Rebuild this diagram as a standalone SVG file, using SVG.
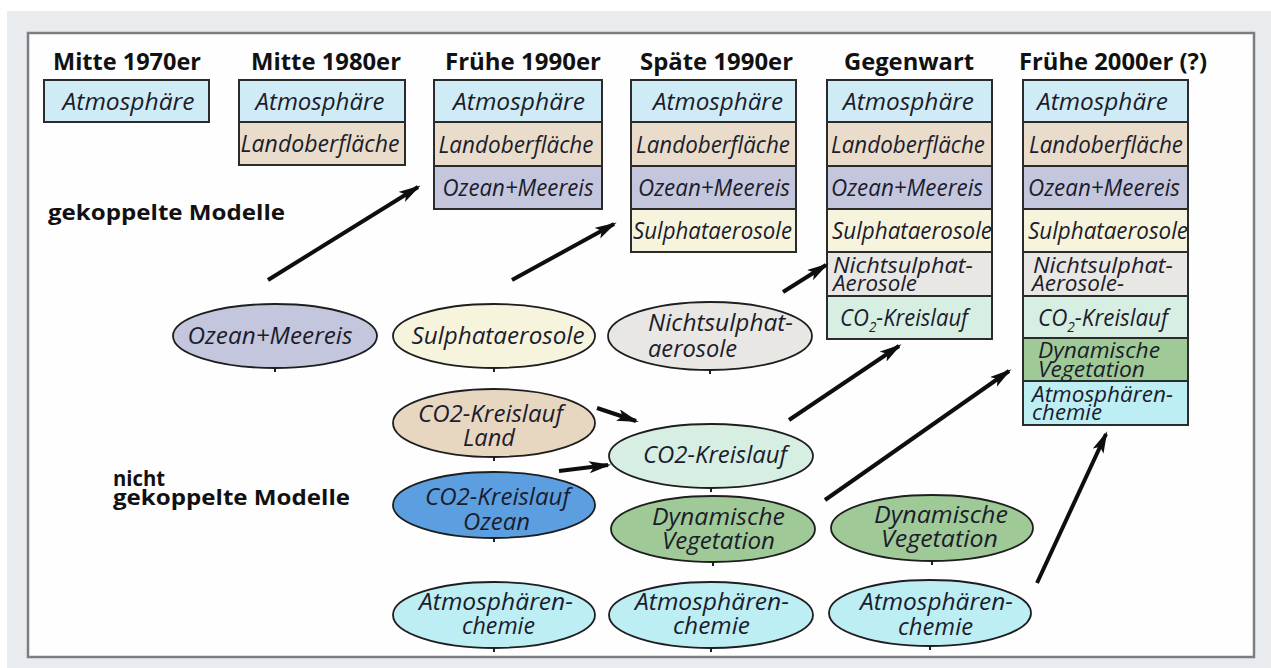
<svg xmlns="http://www.w3.org/2000/svg" width="1271" height="668" viewBox="0 0 1271 668">
  <style>
    .hdr { font-family: "Open Sans", "Liberation Sans", sans-serif; font-weight: 700; font-size: 24px; fill: #111; }
    .side { font-family: "Open Sans", "Liberation Sans", sans-serif; font-weight: 700; font-size: 22px; fill: #111; }
    .lbl { font-family: "Open Sans", "Liberation Sans", sans-serif; font-style: italic; font-size: 23px; fill: #1c1c2c; }
    .lbl2 { font-family: "Open Sans", "Liberation Sans", sans-serif; font-style: italic; font-size: 21px; fill: #1c1c2c; }
    .cell { stroke: #2b2b2b; stroke-width: 2; }
    .ell { stroke: #1e1e1e; stroke-width: 1.8; }
    .tick { stroke: #1e1e1e; stroke-width: 2; }
    .atm { fill: #cfecf6; }
    .land { fill: #e9dcca; }
    .ocean { fill: #c4c6dd; }
    .sulf { fill: #f6f4dd; }
    .nsulf { fill: #e9e7e3; }
    .co2 { fill: #d6efe2; }
    .veg { fill: #9fca97; }
    .chem { fill: #bceef4; }
    .co2land { fill: #e7d7c1; }
    .co2ocean { fill: #5c9fe0; }
    .arrow { stroke: #0e0e0e; stroke-width: 4; fill: none; marker-end: url(#ah); }
  </style>
  <defs>
    <marker id="ah" markerUnits="userSpaceOnUse" markerWidth="24" markerHeight="14" refX="19" refY="6" orient="auto">
      <path d="M0,0 L22,6 L0,12 L5,6 Z" fill="#0e0e0e"/>
    </marker>
  </defs>

  <!-- page background and framed panel -->
  <rect x="0" y="0" width="1271" height="668" fill="#ffffff"/>
  <rect x="7" y="11" width="1264" height="657" fill="#e8ecef"/>
  <rect x="28" y="33" width="1226" height="624" fill="#fefefe" stroke="#7b7e82" stroke-width="2.5"/>

  <!-- column headings -->
  <g id="headings">
    <text class="hdr" x="53" y="70" textLength="148" lengthAdjust="spacingAndGlyphs">Mitte 1970er</text>
    <text class="hdr" x="251" y="70" textLength="150" lengthAdjust="spacingAndGlyphs">Mitte 1980er</text>
    <text class="hdr" x="445" y="70" textLength="156" lengthAdjust="spacingAndGlyphs">Frühe 1990er</text>
    <text class="hdr" x="640" y="70" textLength="153" lengthAdjust="spacingAndGlyphs">Späte 1990er</text>
    <text class="hdr" x="844" y="70" textLength="130" lengthAdjust="spacingAndGlyphs">Gegenwart</text>
    <text class="hdr" x="1019" y="70" textLength="188" lengthAdjust="spacingAndGlyphs">Frühe 2000er (?)</text>
  </g>

  <!-- side labels -->
  <g id="side-labels">
    <text class="side" x="48" y="220" textLength="237" lengthAdjust="spacingAndGlyphs">gekoppelte Modelle</text>
    <text class="side" x="113" y="486" textLength="52" lengthAdjust="spacingAndGlyphs">nicht</text>
    <text class="side" x="113" y="505" textLength="237" lengthAdjust="spacingAndGlyphs">gekoppelte Modelle</text>
  </g>

  <!-- Mitte 1970er -->
  <g id="col-1970">
    <rect class="cell atm" x="44" y="80" width="165" height="42"/>
    <text class="lbl" x="128.5" y="110" text-anchor="middle" textLength="132" lengthAdjust="spacingAndGlyphs">Atmosphäre</text>
  </g>

  <!-- Mitte 1980er -->
  <g id="col-1980">
    <rect class="cell atm" x="239" y="80" width="166" height="42"/>
    <rect class="cell land" x="239" y="122" width="166" height="43"/>
    <text class="lbl" x="320" y="110" text-anchor="middle" textLength="129" lengthAdjust="spacingAndGlyphs">Atmosphäre</text>
    <text class="lbl" x="320" y="152" text-anchor="middle" textLength="159" lengthAdjust="spacingAndGlyphs">Landoberfläche</text>
  </g>

  <!-- Frühe 1990er -->
  <g id="col-1990a">
    <rect class="cell atm" x="434" y="80" width="168" height="42"/>
    <rect class="cell land" x="434" y="122" width="168" height="44"/>
    <rect class="cell ocean" x="434" y="166" width="168" height="43"/>
    <text class="lbl" x="519" y="110" text-anchor="middle" textLength="132" lengthAdjust="spacingAndGlyphs">Atmosphäre</text>
    <text class="lbl" x="516" y="153" text-anchor="middle" textLength="155" lengthAdjust="spacingAndGlyphs">Landoberfläche</text>
    <text class="lbl" x="518" y="196" text-anchor="middle" textLength="151" lengthAdjust="spacingAndGlyphs">Ozean+Meereis</text>
  </g>

  <!-- Späte 1990er -->
  <g id="col-1990b">
    <rect class="cell atm" x="631" y="80" width="165" height="42"/>
    <rect class="cell land" x="631" y="122" width="165" height="44"/>
    <rect class="cell ocean" x="631" y="166" width="165" height="43"/>
    <rect class="cell sulf" x="631" y="209" width="165" height="43"/>
    <text class="lbl" x="718" y="110" text-anchor="middle" textLength="130" lengthAdjust="spacingAndGlyphs">Atmosphäre</text>
    <text class="lbl" x="713" y="153" text-anchor="middle" textLength="154" lengthAdjust="spacingAndGlyphs">Landoberfläche</text>
    <text class="lbl" x="714" y="196" text-anchor="middle" textLength="152" lengthAdjust="spacingAndGlyphs">Ozean+Meereis</text>
    <text class="lbl" x="712.5" y="239" text-anchor="middle" textLength="159" lengthAdjust="spacingAndGlyphs">Sulphataerosole</text>
  </g>

  <!-- Gegenwart -->
  <g id="col-present">
    <rect class="cell atm" x="827" y="80" width="165" height="42"/>
    <rect class="cell land" x="827" y="122" width="165" height="44"/>
    <rect class="cell ocean" x="827" y="166" width="165" height="43"/>
    <rect class="cell sulf" x="827" y="209" width="165" height="43"/>
    <rect class="cell nsulf" x="827" y="252" width="165" height="44"/>
    <rect class="cell co2" x="827" y="296" width="165" height="43"/>
    <text class="lbl" x="908.5" y="110" text-anchor="middle" textLength="131" lengthAdjust="spacingAndGlyphs">Atmosphäre</text>
    <text class="lbl" x="908" y="153" text-anchor="middle" textLength="154" lengthAdjust="spacingAndGlyphs">Landoberfläche</text>
    <text class="lbl" x="907" y="196" text-anchor="middle" textLength="152" lengthAdjust="spacingAndGlyphs">Ozean+Meereis</text>
    <text class="lbl" x="912" y="239" text-anchor="middle" textLength="160" lengthAdjust="spacingAndGlyphs">Sulphataerosole</text>
    <text class="lbl2" x="833" y="273" textLength="140" lengthAdjust="spacingAndGlyphs">Nichtsulphat-</text>
    <text class="lbl2" x="833" y="291" textLength="84" lengthAdjust="spacingAndGlyphs">Aerosole</text>
    <text class="lbl" x="840" y="326" textLength="128" lengthAdjust="spacingAndGlyphs">CO<tspan dy="6" font-size="14">2</tspan><tspan dy="-6">-Kreislauf</tspan></text>
  </g>

  <!-- Frühe 2000er (?) -->
  <g id="col-2000">
    <rect class="cell atm" x="1023" y="80" width="165" height="42"/>
    <rect class="cell land" x="1023" y="122" width="165" height="44"/>
    <rect class="cell ocean" x="1023" y="166" width="165" height="43"/>
    <rect class="cell sulf" x="1023" y="209" width="165" height="43"/>
    <rect class="cell nsulf" x="1023" y="252" width="165" height="44"/>
    <rect class="cell co2" x="1023" y="296" width="165" height="42"/>
    <rect class="cell veg" x="1023" y="338" width="165" height="43"/>
    <rect class="cell chem" x="1023" y="381" width="165" height="44"/>
    <text class="lbl" x="1102.5" y="110" text-anchor="middle" textLength="131" lengthAdjust="spacingAndGlyphs">Atmosphäre</text>
    <text class="lbl" x="1106" y="153" text-anchor="middle" textLength="154" lengthAdjust="spacingAndGlyphs">Landoberfläche</text>
    <text class="lbl" x="1104" y="196" text-anchor="middle" textLength="152" lengthAdjust="spacingAndGlyphs">Ozean+Meereis</text>
    <text class="lbl" x="1108" y="239" text-anchor="middle" textLength="160" lengthAdjust="spacingAndGlyphs">Sulphataerosole</text>
    <text class="lbl2" x="1033" y="273" textLength="140" lengthAdjust="spacingAndGlyphs">Nichtsulphat-</text>
    <text class="lbl2" x="1032" y="291" textLength="92" lengthAdjust="spacingAndGlyphs">Aerosole-</text>
    <text class="lbl" x="1038" y="326" textLength="130" lengthAdjust="spacingAndGlyphs">CO<tspan dy="6" font-size="14">2</tspan><tspan dy="-6">-Kreislauf</tspan></text>
    <text class="lbl2" x="1038" y="358" textLength="122" lengthAdjust="spacingAndGlyphs">Dynamische</text>
    <text class="lbl2" x="1038" y="377" textLength="107" lengthAdjust="spacingAndGlyphs">Vegetation</text>
    <text class="lbl2" x="1032" y="402" textLength="141" lengthAdjust="spacingAndGlyphs">Atmosphären-</text>
    <text class="lbl2" x="1032" y="420" textLength="70" lengthAdjust="spacingAndGlyphs">chemie</text>
  </g>

  <!-- stand-alone model components -->
  <g id="ell-ocean">
    <ellipse class="ell ocean" cx="275" cy="336" rx="102" ry="32"/>
    <line class="tick" x1="275" y1="368" x2="275" y2="372"/>
    <text class="lbl" x="270" y="344" text-anchor="middle" textLength="165" lengthAdjust="spacingAndGlyphs">Ozean+Meereis</text>
  </g>
  <g id="ell-sulf">
    <ellipse class="ell sulf" cx="494" cy="336" rx="101" ry="32"/>
    <line class="tick" x1="494" y1="368" x2="494" y2="372"/>
    <text class="lbl" x="498" y="344" text-anchor="middle" textLength="173" lengthAdjust="spacingAndGlyphs">Sulphataerosole</text>
  </g>
  <g id="ell-nsulf">
    <ellipse class="ell nsulf" cx="710" cy="336" rx="102" ry="34"/>
    <line class="tick" x1="710" y1="370" x2="710" y2="374"/>
    <text class="lbl" x="648" y="331" textLength="145" lengthAdjust="spacingAndGlyphs">Nichtsulphat-</text>
    <text class="lbl" x="648" y="357" textLength="89" lengthAdjust="spacingAndGlyphs">aerosole</text>
  </g>
  <g id="ell-co2land">
    <ellipse class="ell co2land" cx="494" cy="423" rx="101" ry="34"/>
    <line class="tick" x1="494" y1="457" x2="494" y2="461"/>
    <text class="lbl" x="490.5" y="422" text-anchor="middle" textLength="145" lengthAdjust="spacingAndGlyphs">CO2-Kreislauf</text>
    <text class="lbl" x="489" y="446" text-anchor="middle" textLength="52" lengthAdjust="spacingAndGlyphs">Land</text>
  </g>
  <g id="ell-co2">
    <ellipse class="ell co2" cx="711" cy="456" rx="102" ry="32"/>
    <line class="tick" x1="711" y1="488" x2="711" y2="492"/>
    <text class="lbl" x="715" y="463" text-anchor="middle" textLength="144" lengthAdjust="spacingAndGlyphs">CO2-Kreislauf</text>
  </g>
  <g id="ell-co2ocean">
    <ellipse class="ell co2ocean" cx="494" cy="505" rx="101" ry="33"/>
    <line class="tick" x1="494" y1="538" x2="494" y2="542"/>
    <text class="lbl" x="497.5" y="505" text-anchor="middle" textLength="145" lengthAdjust="spacingAndGlyphs">CO2-Kreislauf</text>
    <text class="lbl" x="496.5" y="530" text-anchor="middle" textLength="67" lengthAdjust="spacingAndGlyphs">Ozean</text>
  </g>
  <g id="ell-veg1">
    <ellipse class="ell veg" cx="713" cy="529" rx="102" ry="33"/>
    <line class="tick" x1="713" y1="562" x2="713" y2="566"/>
    <text class="lbl" x="718.5" y="525" text-anchor="middle" textLength="133" lengthAdjust="spacingAndGlyphs">Dynamische</text>
    <text class="lbl" x="718.5" y="549" text-anchor="middle" textLength="113" lengthAdjust="spacingAndGlyphs">Vegetation</text>
  </g>
  <g id="ell-veg2">
    <ellipse class="ell veg" cx="932" cy="528" rx="101" ry="33"/>
    <line class="tick" x1="932" y1="561" x2="932" y2="565"/>
    <text class="lbl" x="941" y="523" text-anchor="middle" textLength="134" lengthAdjust="spacingAndGlyphs">Dynamische</text>
    <text class="lbl" x="939.5" y="547" text-anchor="middle" textLength="117" lengthAdjust="spacingAndGlyphs">Vegetation</text>
  </g>
  <g id="ell-chem1">
    <ellipse class="ell chem" cx="494" cy="615" rx="101" ry="33"/>
    <line class="tick" x1="494" y1="648" x2="494" y2="652"/>
    <text class="lbl" x="496" y="610" text-anchor="middle" textLength="154" lengthAdjust="spacingAndGlyphs">Atmosphären-</text>
    <text class="lbl" x="498.5" y="634" text-anchor="middle" textLength="73" lengthAdjust="spacingAndGlyphs">chemie</text>
  </g>
  <g id="ell-chem2">
    <ellipse class="ell chem" cx="711" cy="615" rx="102" ry="33"/>
    <line class="tick" x1="711" y1="648" x2="711" y2="652"/>
    <text class="lbl" x="712" y="610" text-anchor="middle" textLength="154" lengthAdjust="spacingAndGlyphs">Atmosphären-</text>
    <text class="lbl" x="711.5" y="634" text-anchor="middle" textLength="77" lengthAdjust="spacingAndGlyphs">chemie</text>
  </g>
  <g id="ell-chem3">
    <ellipse class="ell chem" cx="930" cy="613" rx="101" ry="33"/>
    <line class="tick" x1="930" y1="646" x2="930" y2="650"/>
    <text class="lbl" x="936.5" y="610" text-anchor="middle" textLength="153" lengthAdjust="spacingAndGlyphs">Atmosphären-</text>
    <text class="lbl" x="935.5" y="635" text-anchor="middle" textLength="75" lengthAdjust="spacingAndGlyphs">chemie</text>
  </g>

  <!-- coupling arrows -->
  <g id="connectors">
    <line class="arrow" x1="268" y1="280" x2="418" y2="187"/>
    <line class="arrow" x1="512" y1="280" x2="614" y2="224"/>
    <line class="arrow" x1="783" y1="292" x2="826" y2="265"/>
    <line class="arrow" x1="597" y1="408" x2="636" y2="421"/>
    <line class="arrow" x1="559" y1="471" x2="608" y2="465"/>
    <line class="arrow" x1="789" y1="420" x2="899" y2="346"/>
    <line class="arrow" x1="825" y1="500" x2="1009" y2="371"/>
    <line class="arrow" x1="1037" y1="583" x2="1106" y2="434"/>
  </g>
</svg>
